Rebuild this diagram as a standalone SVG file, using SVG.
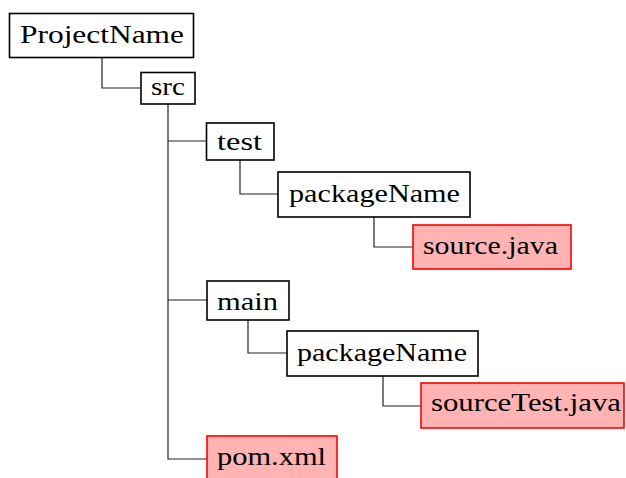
<svg xmlns="http://www.w3.org/2000/svg" width="626" height="478" viewBox="0 0 626 478">
<style>
.box{fill:#fff;stroke:#000;stroke-width:1.6}
.file{fill:#ffb3b3;stroke:#f00;stroke-width:1.6}
.t{font-family:"Liberation Serif","Times New Roman",serif;font-size:26px;fill:#000}
.c{fill:none;stroke:#222;stroke-width:1.2}
</style>
<rect width="626" height="478" fill="#fff"/>
<g id="connectors">
<path class="c" d="M102 58V88H141"/>
<path class="c" d="M168 104V459H207"/>
<path class="c" d="M168 141H206"/>
<path class="c" d="M168 300H207"/>
<path class="c" d="M240 160V194H278"/>
<path class="c" d="M374 217V247H413"/>
<path class="c" d="M248 320V353H287"/>
<path class="c" d="M383 376V406H421"/>
</g>
<g id="projectname"><rect class="box" x="9.5" y="13.5" width="184" height="44"/><text class="t" x="20" y="43" textLength="164" lengthAdjust="spacingAndGlyphs">ProjectName</text></g>
<g id="src"><rect class="box" x="141" y="72.5" width="54" height="31.5"/><text class="t" x="151" y="95" textLength="34" lengthAdjust="spacingAndGlyphs">src</text></g>
<g id="test"><rect class="box" x="206.5" y="123" width="67.5" height="37"/><text class="t" x="217" y="150" textLength="45" lengthAdjust="spacingAndGlyphs">test</text></g>
<g id="packagename1"><rect class="box" x="278" y="172" width="192" height="45"/><text class="t" x="289" y="202" textLength="171" lengthAdjust="spacingAndGlyphs">packageName</text></g>
<g id="sourcejava"><rect class="file" x="413" y="225" width="158" height="44"/><text class="t" x="423" y="254" textLength="135" lengthAdjust="spacingAndGlyphs">source.java</text></g>
<g id="main"><rect class="box" x="207" y="281" width="82" height="39"/><text class="t" x="217" y="310" textLength="61" lengthAdjust="spacingAndGlyphs">main</text></g>
<g id="packagename2"><rect class="box" x="287" y="331" width="191" height="45"/><text class="t" x="297" y="361" textLength="170" lengthAdjust="spacingAndGlyphs">packageName</text></g>
<g id="sourcetestjava"><rect class="file" x="421" y="383" width="203" height="45"/><text class="t" x="431" y="411" textLength="190" lengthAdjust="spacingAndGlyphs">sourceTest.java</text></g>
<g id="pomxml"><rect class="file" x="207" y="436" width="130" height="46"/><text class="t" x="217" y="465" textLength="109" lengthAdjust="spacingAndGlyphs">pom.xml</text></g>
</svg>
